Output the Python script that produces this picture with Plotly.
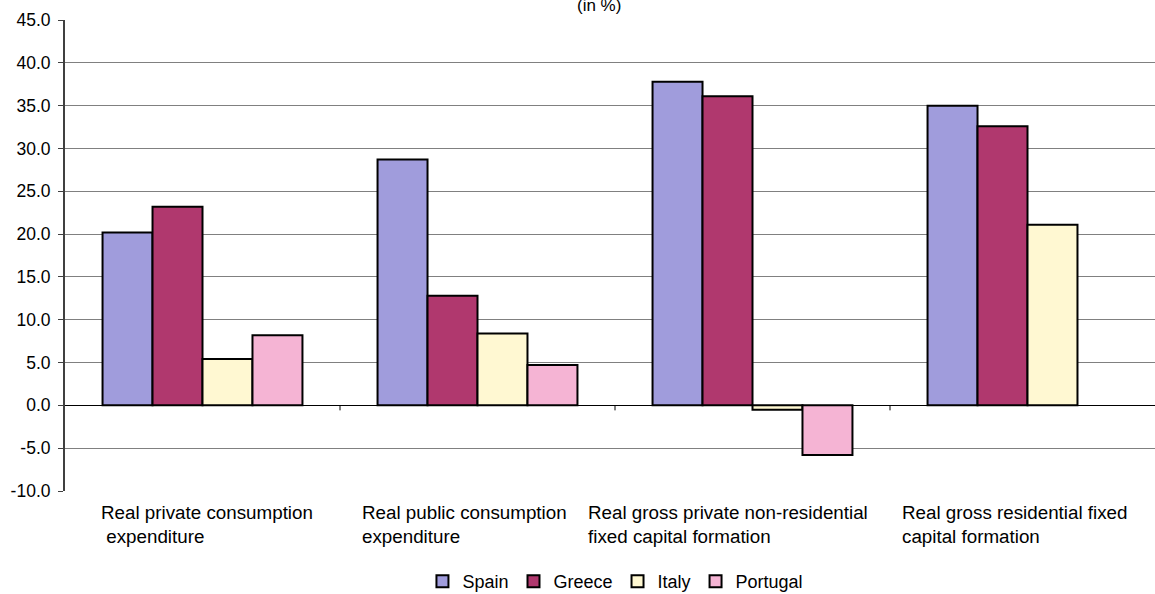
import plotly.graph_objects as go

# Growth of demand components by country (in %)
categories = [
    "Real private consumption<br>\u00a0expenditure",
    "Real public consumption<br>expenditure",
    "Real gross private non-residential<br>fixed capital formation",
    "Real gross residential fixed<br>capital formation",
]
spain = [20.2, 28.7, 37.8, 35.0]
greece = [23.2, 12.8, 36.1, 32.6]
italy = [5.4, 8.4, -0.5, 21.1]
portugal = [8.2, 4.7, -5.8, None]

y_ticks = [-10, -5, 0, 5, 10, 15, 20, 25, 30, 35, 40, 45]
y_tick_text = [f"{v:.1f}" for v in y_ticks]

series = [
    ("Spain", spain, "#A09CDC"),
    ("Greece", greece, "#B0386E"),
    ("Italy", italy, "#FFF8D2"),
    ("Portugal", portugal, "#F5B4D4"),
]

FONT = "Liberation Sans, Arial, Helvetica, sans-serif"
idx = list(range(len(categories)))

fig = go.Figure()
for name, vals, color in series:
    fig.add_trace(go.Bar(
        name=name, x=idx, y=vals,
        marker=dict(color=color, line=dict(color="#000000", width=2)),
    ))

# category labels under the plot, lines left-aligned
label_shift = [4, -13, -25, -13]
for i, text in enumerate(categories):
    fig.add_annotation(
        x=i, y=y_ticks[0], xref="x", yref="y",
        text=text, showarrow=False, align="left",
        xanchor="center", yanchor="top", xshift=label_shift[i], yshift=-9,
        font=dict(family=FONT, size=18.8, color="#000000"),
    )

# small ticks on the zero line between category groups
for i in idx[:-1]:
    fig.add_shape(
        type="line", xref="x", yref="y",
        x0=i + 0.5, x1=i + 0.5, ysizemode="pixel", yanchor=0, y0=0, y1=-5,
        line=dict(color="#000000", width=1),
    )

# subtitle
fig.add_annotation(
    x=0.49, y=1, xref="paper", yref="paper", text="(in %)", showarrow=False,
    xanchor="center", yanchor="bottom", yshift=3,
    font=dict(family=FONT, size=17, color="#000000"),
)

fig.update_layout(
    width=1155, height=594,
    margin=dict(l=65, r=0, t=20, b=103, autoexpand=False),
    paper_bgcolor="#FFFFFF", plot_bgcolor="#FFFFFF",
    barmode="group", bargap=0.273, bargroupgap=0,
    font=dict(family=FONT, size=17, color="#000000"),
    showlegend=True,
    legend=dict(
        orientation="h", x=0.505, xanchor="center", y=-0.192, yanchor="middle",
        font=dict(family=FONT, size=18, color="#000000"),
        itemwidth=30, tracegroupgap=0,
    ),
    xaxis=dict(
        range=[-0.5, -0.5 + 1090 / 275], showticklabels=False, showgrid=False,
        zeroline=False, showline=False, ticks="",
    ),
    yaxis=dict(
        range=[y_ticks[0], y_ticks[-1]], tickvals=y_ticks, ticktext=y_tick_text,
        showgrid=True, gridcolor="#808080", gridwidth=1,
        zeroline=True, zerolinecolor="#000000", zerolinewidth=1,
        showline=True, linecolor="#404040", linewidth=2,
        ticks="outside", ticklen=5, tickcolor="#404040", tickwidth=1,
        ticklabelstandoff=4,
        tickfont=dict(family=FONT, size=17.5, color="#000000"),
    ),
)

fig.write_html("out.html")
